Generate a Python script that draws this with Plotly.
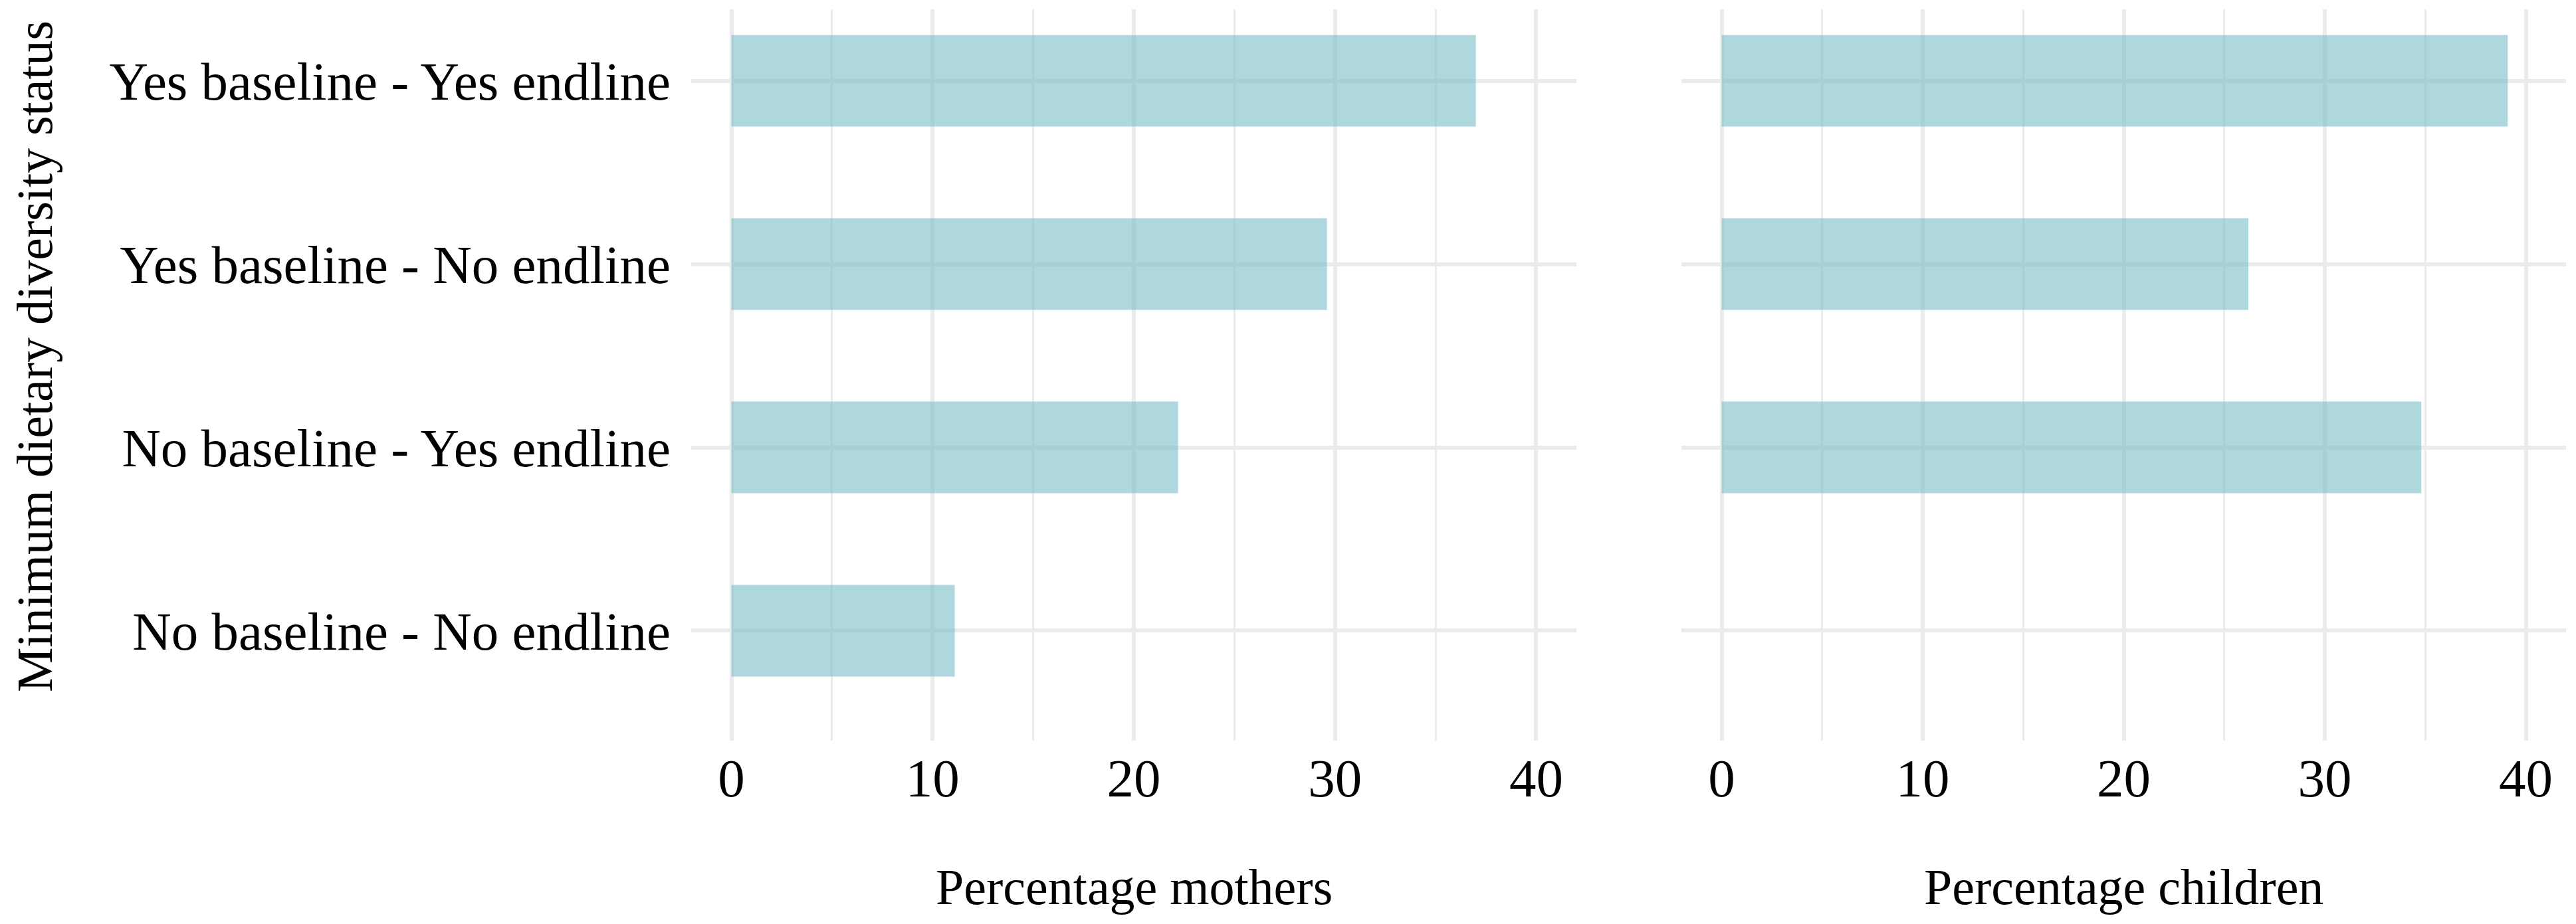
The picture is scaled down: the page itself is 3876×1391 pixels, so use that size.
import plotly.graph_objects as go

categories = ["No baseline - No endline", "No baseline - Yes endline",
              "Yes baseline - No endline", "Yes baseline - Yes endline"]
mothers = [11.1, 22.2, 29.6, 37.0]
children = [0.0, 34.8, 26.2, 39.1]
x_ticks = [0, 10, 20, 30, 40]
x_titles = ["Percentage mothers", "Percentage children"]
y_title = "Minimum dietary diversity status"

W, H = 3876, 1391
FONT = "Liberation Serif"
FS_TICK = 81
FS_TITLE = 76
GRID = "#EBEBEB"
BAR = "rgba(120,190,200,0.6)"

fig = go.Figure()
fig.add_trace(go.Bar(x=mothers, y=categories, orientation="h", width=0.5,
                     marker=dict(color=BAR, line=dict(width=0)),
                     xaxis="x", yaxis="y", showlegend=False))
fig.add_trace(go.Bar(x=children, y=categories, orientation="h", width=0.5,
                     marker=dict(color=BAR, line=dict(width=0)),
                     xaxis="x2", yaxis="y2", showlegend=False))

top, bottom = 14, 1115
ydom = [1 - bottom / H, 1 - top / H]
xdom1 = [1040 / W, 2372 / W]
xdom2 = [2530 / W, 3861 / W]

xcommon = dict(range=[-2, 42], tickvals=x_ticks, ticktext=[str(v) for v in x_ticks],
               showgrid=True, gridcolor=GRID, gridwidth=5.5, zeroline=False,
               showline=False, ticks="", ticklabelstandoff=2,
               tickfont=dict(family=FONT, size=FS_TICK, color="black"),
               minor=dict(tickvals=[5, 15, 25, 35], showgrid=True, gridcolor=GRID, gridwidth=2.8),
               fixedrange=True)
ycommon = dict(type="category", categoryorder="array", categoryarray=categories,
               range=[-0.6, 3.39], showgrid=True, gridcolor=GRID, gridwidth=6,
               zeroline=False, showline=False, ticks="",
               tickfont=dict(family=FONT, size=FS_TICK, color="black"), fixedrange=True)

fig.update_layout(
    width=W, height=H,
    margin=dict(l=0, r=0, t=0, b=0),
    paper_bgcolor="white", plot_bgcolor="white",
    bargap=0.5,
    xaxis=dict(domain=xdom1, anchor="y", **xcommon),
    xaxis2=dict(domain=xdom2, anchor="y2", **xcommon),
    yaxis=dict(domain=ydom, anchor="x", ticklabelstandoff=30, **ycommon),
    yaxis2=dict(domain=ydom, anchor="x2", showticklabels=False, **ycommon),
    font=dict(family=FONT, size=FS_TICK, color="black"),
)

annotations = []
for dom, t in zip([xdom1, xdom2], x_titles):
    annotations.append(dict(text=t, xref="paper", yref="paper",
                            x=(dom[0] + dom[1]) / 2, y=1 - 1335 / H,
                            xanchor="center", yanchor="middle", showarrow=False,
                            font=dict(family=FONT, size=FS_TITLE, color="black")))
annotations.append(dict(text=y_title, xref="paper", yref="paper",
                        x=52 / W, y=1 - 537 / H, textangle=-90,
                        xanchor="center", yanchor="middle", showarrow=False,
                        font=dict(family=FONT, size=FS_TITLE, color="black")))
fig.update_layout(annotations=annotations)

fig.write_html("out.html", config={"displayModeBar": False},
               post_script="document.body.style.margin='0';")
